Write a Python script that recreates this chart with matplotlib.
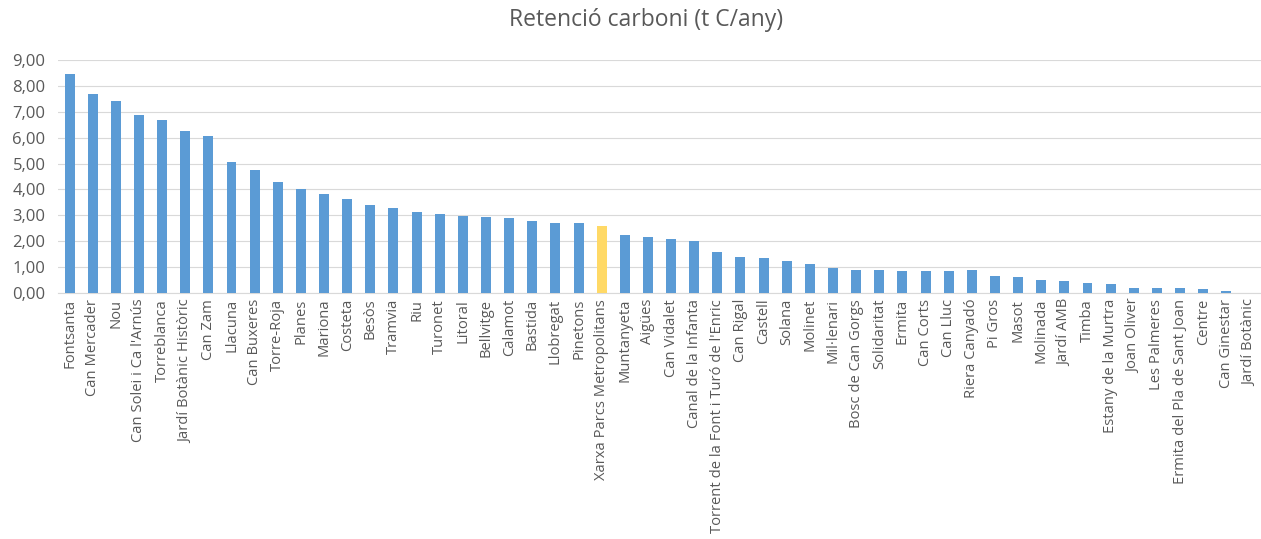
# Retenció de carboni per parc (barres)
import matplotlib
matplotlib.use('Agg')
import matplotlib.pyplot as plt
from matplotlib.ticker import FuncFormatter

parcs = [
    'Fontsanta', 'Can Mercader', 'Nou', "Can Solei i Ca l'Arnús", 'Torreblanca',
    'Jardí Botànic Històric', 'Can Zam', 'Llacuna', 'Can Buxeres', 'Torre-Roja',
    'Planes', 'Mariona', 'Costeta', 'Besòs', 'Tramvia', 'Riu', 'Turonet', 'Litoral',
    'Bellvitge', 'Calamot', 'Bastida', 'Llobregat', 'Pinetons',
    'Xarxa Parcs Metropolitans', 'Muntanyeta', 'Aigües', 'Can Vidalet',
    'Canal de la Infanta', "Torrent de la Font i Turó de l'Enric", 'Can Rigal',
    'Castell', 'Solana', 'Molinet', 'Mil·lenari', 'Bosc de Can Gorgs', 'Solidaritat',
    'Ermita', 'Can Corts', 'Can Lluc', 'Riera Canyadó', 'Pi Gros', 'Masot',
    'Molinada', 'Jardí AMB', 'Timba', 'Estany de la Murtra', 'Joan Oliver',
    'Les Palmeres', 'Ermita del Pla de Sant Joan', 'Centre', 'Can Ginestar',
    'Jardí Botànic',
]
retencio = [
    8.46, 7.68, 7.43, 6.87, 6.67, 6.26, 6.05, 5.07, 4.77, 4.27,
    4.01, 3.84, 3.64, 3.41, 3.30, 3.14, 3.06, 2.98, 2.94, 2.90,
    2.79, 2.71, 2.71, 2.60, 2.25, 2.16, 2.10, 2.02, 1.60, 1.39,
    1.35, 1.25, 1.14, 0.96, 0.90, 0.90, 0.87, 0.87, 0.87, 0.88,
    0.68, 0.64, 0.52, 0.46, 0.41, 0.35, 0.19, 0.19, 0.19, 0.15,
    0.09, 0.0,
]
destacat = 'Xarxa Parcs Metropolitans'

blau = '#5B9BD5'
groc = '#FFD966'
gris = '#595959'

plt.rcParams['font.family'] = ['Open Sans', 'DejaVu Sans']

fig = plt.figure(figsize=(12.61, 5.39), dpi=100)
ax = fig.add_axes([0.046, 0.456, 0.954, 0.433])

colors = [groc if p == destacat else blau for p in parcs]
ax.bar(range(len(parcs)), retencio, width=0.43, color=colors, zorder=3)

ax.set_xlim(-0.5, len(parcs) - 0.5)
ax.set_ylim(0, 9)
ax.set_yticks(range(0, 10))
ax.yaxis.set_major_formatter(FuncFormatter(lambda v, p: f'{v:.2f}'.replace('.', ',')))
ax.set_xticks(range(len(parcs)))
ax.set_xticklabels(parcs, rotation=90, fontsize=10.6, color=gris)
ax.tick_params(axis='y', labelsize=12, colors=gris, length=0, pad=9)
ax.tick_params(axis='x', length=0, pad=4)

ax.grid(axis='y', color='#D9D9D9', linewidth=0.8, zorder=0)
for s in ['top', 'right', 'left']:
    ax.spines[s].set_visible(False)
ax.spines['bottom'].set_color('#D9D9D9')

fig.text(0.512, 0.962, 'Retenció carboni (t C/any)', ha='center', va='center',
         fontsize=16.5, color=gris)

fig.savefig('out.png', dpi=100)
